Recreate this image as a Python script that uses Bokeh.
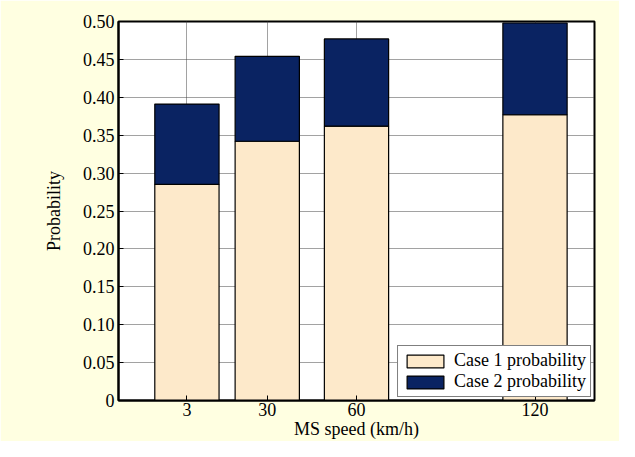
from bokeh.plotting import figure
from bokeh.models import ColumnDataSource, FixedTicker, Range1d
from bokeh.embed import file_html
from bokeh.resources import INLINE

# ---- data ----
speeds = [3, 30, 60, 120]
case1 = [0.285, 0.342, 0.362, 0.377]
case2 = [0.106, 0.112, 0.115, 0.121]
series_names = ["Case 1 probability", "Case 2 probability"]
y_tick_values = [0, 0.05, 0.1, 0.15, 0.2, 0.25, 0.3, 0.35, 0.4, 0.45, 0.5]
y_tick_labels = ["0", "0.05", "0.10", "0.15", "0.20", "0.25", "0.30", "0.35", "0.40", "0.45", "0.50"]
x_tick_values = [3, 30, 60, 120]

FONT = "Liberation Serif"
BG = "#FFFFE1"
C1 = "#FDE9CA"
C2 = "#0A2362"

source = ColumnDataSource(dict(speed=speeds, case1=case1, case2=case2))

p = figure(width=619, height=441, output_backend="svg", toolbar_location=None,
           x_range=Range1d(-20, 140), y_range=Range1d(0, 0.5),
           min_border_left=118, min_border_right=25, min_border_top=21, min_border_bottom=40)
p.border_fill_color = BG
p.background_fill_color = "white"
p.outline_line_color = "black"
p.outline_line_width = 2

p.vbar_stack(["case1", "case2"], x="speed", width=21.6, source=source,
             fill_color=[C1, C2], line_color="black", line_width=1.2,
             legend_label=series_names)

# axes
for ax in (p.xaxis[0], p.yaxis[0]):
    ax.major_label_text_font = FONT
    ax.major_label_text_font_size = "18px"
    ax.major_label_text_color = "black"
    ax.axis_label_text_font = FONT
    ax.axis_label_text_font_size = "18px"
    ax.axis_label_text_font_style = "normal"
    ax.axis_label_text_color = "black"
    ax.major_tick_in = 5
    ax.major_tick_out = 0
    ax.minor_tick_in = 0
    ax.minor_tick_out = 0
    ax.axis_line_color = "black"
    ax.axis_line_width = 2
    ax.major_tick_line_color = "black"

p.xaxis.ticker = FixedTicker(ticks=x_tick_values)
p.xaxis.axis_label = "MS speed (km/h)"
p.xaxis.major_label_standoff = 2
p.xaxis.axis_label_standoff = 0

p.yaxis.ticker = FixedTicker(ticks=y_tick_values)
p.yaxis.major_label_overrides = {v: s for v, s in zip(y_tick_values, y_tick_labels)}
p.yaxis.axis_label = "Probability"
p.yaxis.major_label_standoff = 4
p.yaxis.axis_label_standoff = 16

# grids
p.xgrid.ticker = FixedTicker(ticks=x_tick_values)
p.ygrid.ticker = FixedTicker(ticks=y_tick_values)
for g in (p.xgrid[0], p.ygrid[0]):
    g.grid_line_color = "#444444"
    g.grid_line_dash = "1 1"
    g.grid_line_width = 1

# legend
lg = p.legend[0]
lg.location = "bottom_right"
lg.margin = 3
lg.padding = 4
lg.spacing = 0
lg.glyph_width = 46
lg.glyph_height = 16
lg.label_standoff = 6
lg.label_text_font = FONT
lg.label_text_font_size = "18px"
lg.label_text_color = "black"
lg.label_height = 16
lg.border_line_color = "black"
lg.border_line_width = 1
lg.background_fill_color = "white"
lg.background_fill_alpha = 1.0

open("out.html", "w").write(file_html(p, INLINE))
